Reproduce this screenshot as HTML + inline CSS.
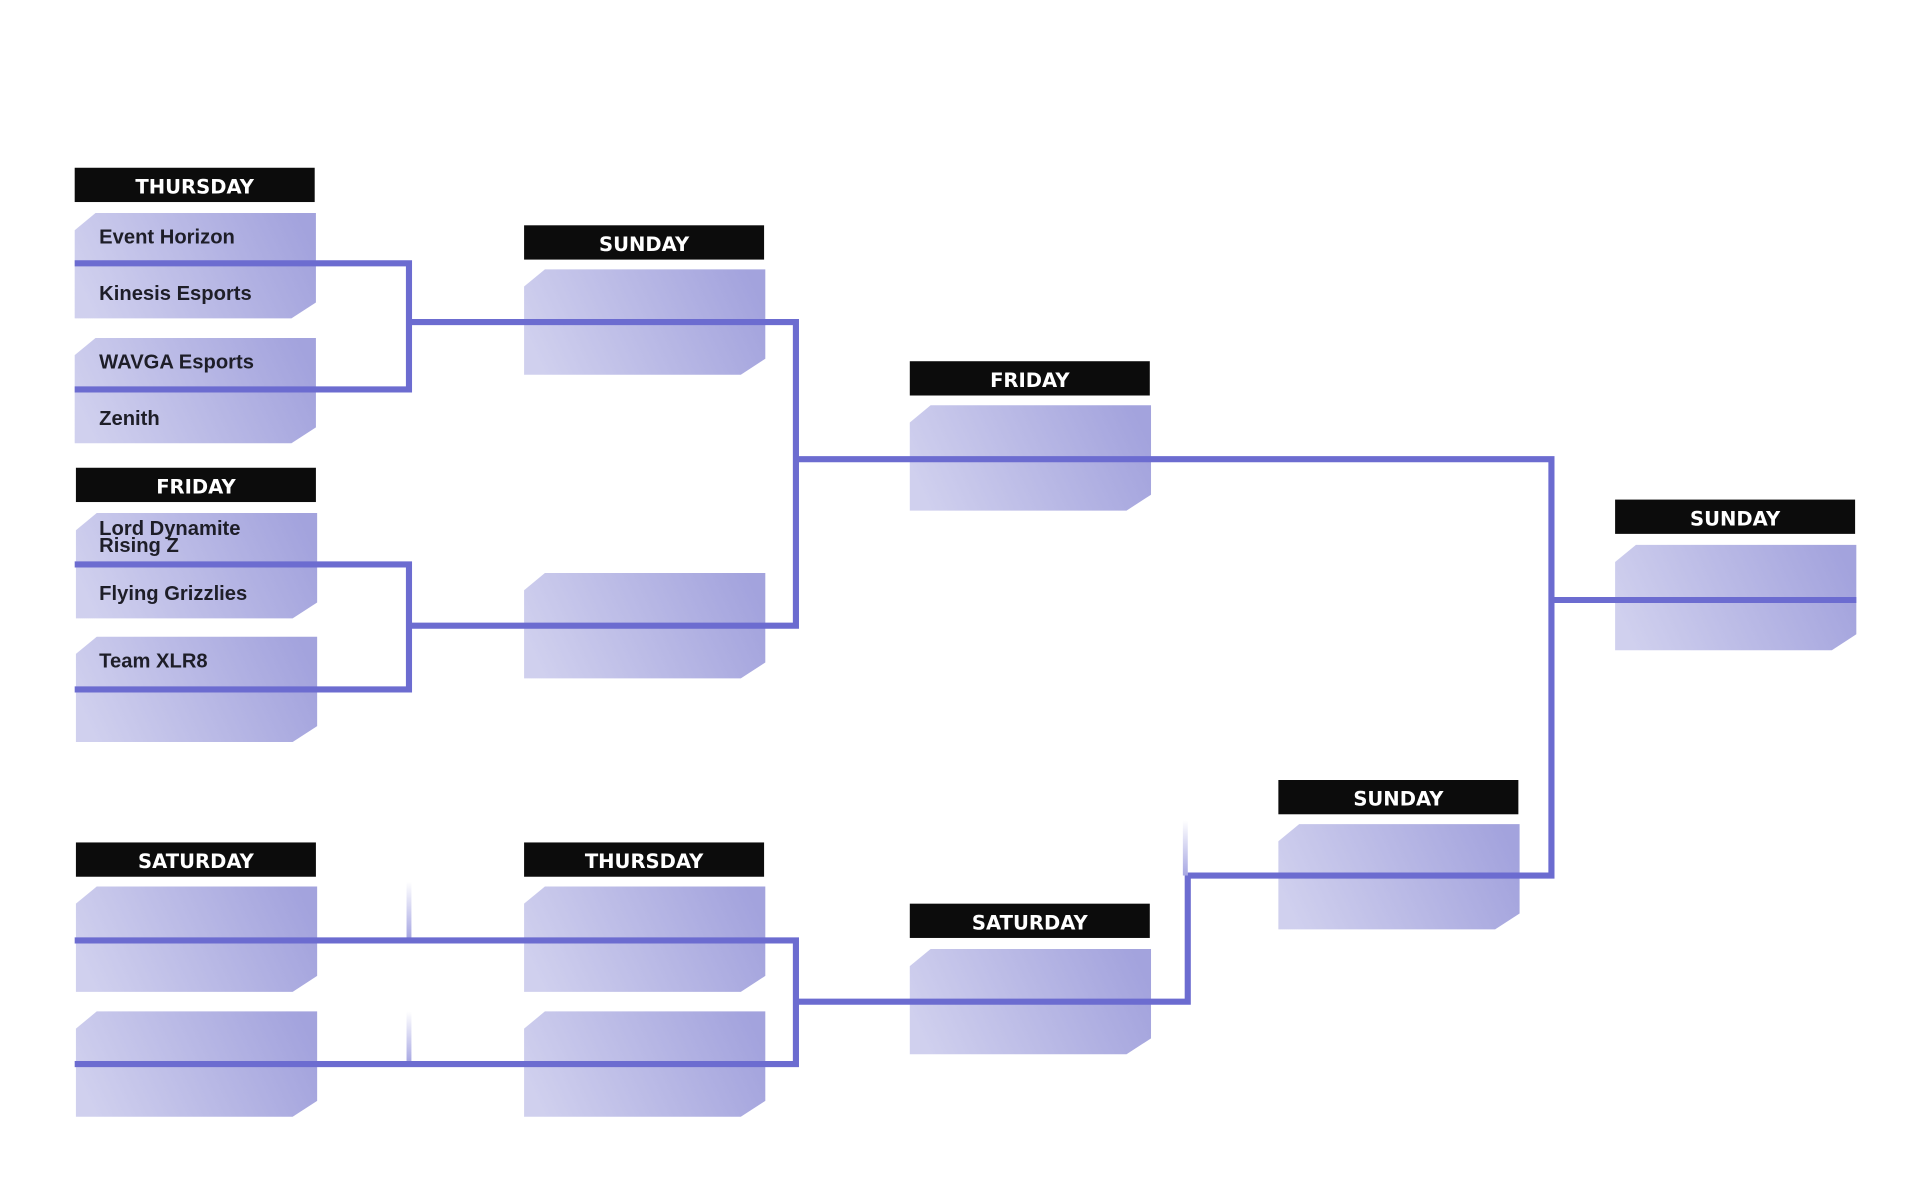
<!DOCTYPE html>
<html><head><meta charset="utf-8"><style>
html,body{margin:0;padding:0;background:#fff;}
svg{display:block}
.h{fill:#0c0c0c}
.ht{fill:#fff;font-family:"DejaVu Sans","Liberation Sans",sans-serif;font-weight:bold;font-size:16px;text-anchor:middle}
.t{fill:#1e1e28;font-family:"Liberation Sans","DejaVu Sans",sans-serif;font-weight:bold;font-size:16.5px}
.l{stroke:#6c6cd0;stroke-width:5;fill:none}
</style></head><body>
<svg width="1920" height="1200" viewBox="0 0 1568 980" xmlns="http://www.w3.org/2000/svg">
<defs>
<linearGradient id="g" x1="0" y1="0.6" x2="1" y2="0.4"><stop offset="0" stop-color="#d0d0ee"/><stop offset="1" stop-color="#a3a3dd"/></linearGradient>
<linearGradient id="fv" x1="0" y1="0" x2="0" y2="1"><stop offset="0" stop-color="#6c6cd0" stop-opacity="0"/><stop offset="1" stop-color="#6c6cd0" stop-opacity="0.6"/></linearGradient>
<path id="c" d="M0,14 L17,0 L197,0 L197,73 L177,86 L0,86 Z"/>
</defs>
<g fill="url(#g)">
<use href="#c" x="61" y="174"/><use href="#c" x="61" y="276"/>
<use href="#c" x="62" y="419"/><use href="#c" x="62" y="520"/>
<use href="#c" x="62" y="724"/><use href="#c" x="62" y="826"/>
<use href="#c" x="428" y="220"/><use href="#c" x="428" y="468"/>
<use href="#c" x="428" y="724"/><use href="#c" x="428" y="826"/>
<use href="#c" x="743" y="331"/><use href="#c" x="743" y="775"/>
<use href="#c" x="1044" y="673"/><use href="#c" x="1319" y="445"/>
</g>
<g class="h">
<rect x="61" y="137" width="196" height="28"/><rect x="62" y="382" width="196" height="28"/>
<rect x="62" y="688" width="196" height="28"/><rect x="428" y="184" width="196" height="28"/>
<rect x="428" y="688" width="196" height="28"/><rect x="743" y="295" width="196" height="28"/>
<rect x="743" y="738" width="196" height="28"/><rect x="1044" y="637" width="196" height="28"/>
<rect x="1319" y="408" width="196" height="28"/>
</g>
<text class="ht" x="159" y="158">THURSDAY</text>
<text class="ht" x="160" y="403">FRIDAY</text>
<text class="ht" x="160" y="709">SATURDAY</text>
<text class="ht" x="526" y="205">SUNDAY</text>
<text class="ht" x="526" y="709">THURSDAY</text>
<text class="ht" x="841" y="316">FRIDAY</text>
<text class="ht" x="841" y="759">SATURDAY</text>
<text class="ht" x="1142" y="658">SUNDAY</text>
<text class="ht" x="1417" y="429">SUNDAY</text>
<text class="t" x="81" y="199">Event Horizon</text>
<text class="t" x="81" y="245">Kinesis Esports</text>
<text class="t" x="81" y="301">WAVGA Esports</text>
<text class="t" x="81" y="347">Zenith</text>
<text class="t" x="81" y="437">Lord Dynamite</text>
<text class="t" x="81" y="451">Rising Z</text>
<text class="t" x="81" y="490">Flying Grizzlies</text>
<text class="t" x="81" y="545">Team XLR8</text>
<g fill="url(#fv)">
<rect x="332" y="720" width="4" height="46"/><rect x="332" y="826" width="4" height="42"/>
<rect x="966" y="670" width="4" height="45"/>
</g>
<g class="l">
<path d="M61,215 H334 V318 H61"/>
<path d="M334,263 H650 V511 H334"/>
<path d="M61,461 H334 V563 H61"/>
<path d="M650,375 H1267 V715 H970"/>
<path d="M1267,490 H1516"/>
<path d="M61,768 H650 V869 H61"/>
<path d="M650,818 H970 V715"/>
</g>
</svg>
</body></html>
